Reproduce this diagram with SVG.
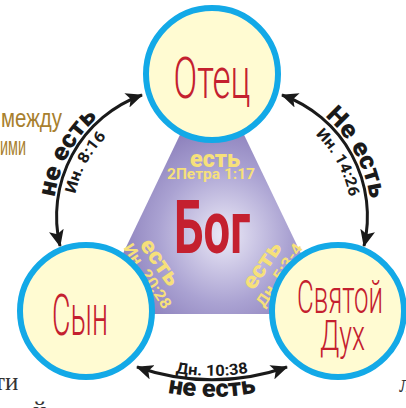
<svg xmlns="http://www.w3.org/2000/svg" width="406" height="408" viewBox="0 0 406 408">
<defs>
<radialGradient id="tri" cx="0.55" cy="0.68" r="0.62">
<stop offset="0" stop-color="#ebe9f7"/>
<stop offset="0.45" stop-color="#aaa2d2"/>
<stop offset="1" stop-color="#6f5fa6"/>
</radialGradient>
<marker id="ah" markerUnits="userSpaceOnUse" markerWidth="17" markerHeight="15" refX="16" refY="7.5" orient="auto-start-reverse" viewBox="0 0 17 15">
<path d="M0,0 L17,7.5 L0,15 L4,7.5 Z" fill="#1a1a1a"/>
</marker>
<path id="lOut" d="M56.5,246.9 A133,133 0 0 1 140.5,92"/>
<path id="lIn" d="M75.9,242.4 A113,113 0 0 1 147.4,110.8"/>
<path id="rOut" d="M283.5,92 A133,133 0 0 1 367.6,246.9"/>
<path id="rIn" d="M276.6,110.8 A113,113 0 0 1 348.1,242.4"/>
<path id="bIn" d="M138.4,363.3 A222,222 0 0 0 285.6,363.3"/>
<path id="bOut" d="M131.3,383.1 A243,243 0 0 0 292.7,383.1"/>
</defs>
<style>
.node circle{fill:#fffbd2;stroke:#13a9e7;stroke-width:6}
.lbl{font-family:Roboto,"Liberation Sans",sans-serif;font-weight:300;fill:#c4202f;text-anchor:middle}
.arc{fill:none;stroke:#1a1a1a;stroke-width:3;marker-start:url(#ah);marker-end:url(#ah)}
.neg{font-family:Roboto,"Liberation Sans",sans-serif;font-weight:900;fill:#1a1a1a;font-size:25px;text-anchor:middle}
.ref{font-family:Roboto,"Liberation Sans",sans-serif;font-weight:700;fill:#1a1a1a;font-size:15.5px;text-anchor:middle}
.yes{font-family:Roboto,"Liberation Sans",sans-serif;font-weight:900;fill:#f6e07a;font-size:23px;text-anchor:middle}
.yref{font-family:Roboto,"Liberation Sans",sans-serif;font-weight:700;fill:#f6e07a;font-size:15.5px;text-anchor:middle}
.bg{font-family:"Liberation Sans",sans-serif;fill:#a8802e;font-size:26px}
.pg{font-family:"Liberation Serif",serif;fill:#333;font-size:25px}
</style>
<g id="background-text">
<text class="bg" x="1" y="127" textLength="61" lengthAdjust="spacingAndGlyphs">между</text>
<text class="bg" x="0" y="155" textLength="26" lengthAdjust="spacingAndGlyphs">ими</text>
<text class="pg" x="-6" y="390">ти</text>
<text class="pg" x="33" y="419">й</text>
<text class="pg" x="399" y="392">л</text>
</g>
<g id="god">
<polygon points="212,68 94,314 330,314" fill="url(#tri)"/>
<text x="212" y="253" font-family="Roboto,'Liberation Sans',sans-serif" font-weight="700" font-size="74" fill="#c4202f" text-anchor="middle" textLength="76" lengthAdjust="spacingAndGlyphs">Бог</text>
<text class="yes" x="215" y="167" textLength="50" lengthAdjust="spacingAndGlyphs">есть</text>
<text class="yref" x="211" y="178.5" textLength="88" lengthAdjust="spacingAndGlyphs">2Петра 1:17</text>
<text class="yes" transform="translate(154,266.4) rotate(55)" textLength="52" lengthAdjust="spacingAndGlyphs">есть</text>
<text class="yref" transform="translate(143.5,279) rotate(57)" textLength="74" lengthAdjust="spacingAndGlyphs">Ин. 20:28</text>
<text class="yes" transform="translate(268,269.4) rotate(-56)" textLength="52" lengthAdjust="spacingAndGlyphs">есть</text>
<text class="yref" transform="translate(283.6,278) rotate(-57)" textLength="72" lengthAdjust="spacingAndGlyphs">Дн. 5:3-4</text>
</g>
<g id="father" class="node">
<circle cx="212" cy="74" r="66"/>
<text class="lbl" x="212" y="98" font-size="58" textLength="77" lengthAdjust="spacingAndGlyphs">Отец</text>
</g>
<g id="son" class="node">
<circle cx="86" cy="311" r="66"/>
<text class="lbl" x="80" y="335" font-size="58" textLength="56" lengthAdjust="spacingAndGlyphs">Сын</text>
</g>
<g id="spirit" class="node">
<circle cx="338" cy="311" r="66"/>
<text class="lbl" x="340" y="313" font-size="46" textLength="86" lengthAdjust="spacingAndGlyphs">Святой</text>
<text class="lbl" x="342.5" y="350" font-size="43" textLength="45" lengthAdjust="spacingAndGlyphs">Дух</text>
</g>
<g id="connectors">
<path class="arc" d="M60,246 A129,129 0 0 1 142,95"/>
<path class="arc" d="M282,95 A129,129 0 0 1 364,246"/>
<path class="arc" d="M137,367 A226,226 0 0 0 287,367"/>
<text class="neg"><textPath href="#lOut" startOffset="50%" textLength="92" lengthAdjust="spacingAndGlyphs">не есть</textPath></text>
<text class="ref"><textPath href="#lIn" startOffset="50%" textLength="66" lengthAdjust="spacingAndGlyphs">Ин. 8:16</textPath></text>
<text class="neg"><textPath href="#rOut" startOffset="50%" textLength="96" lengthAdjust="spacingAndGlyphs">Не есть</textPath></text>
<text class="ref"><textPath href="#rIn" startOffset="50%" textLength="72" lengthAdjust="spacingAndGlyphs">Ин. 14:26</textPath></text>
<text class="ref" font-size="16.5"><textPath href="#bIn" startOffset="50%" textLength="73" lengthAdjust="spacingAndGlyphs">Дн. 10:38</textPath></text>
<text class="neg" font-size="25"><textPath href="#bOut" startOffset="50%" textLength="89" lengthAdjust="spacingAndGlyphs">не есть</textPath></text>
</g>
</svg>
